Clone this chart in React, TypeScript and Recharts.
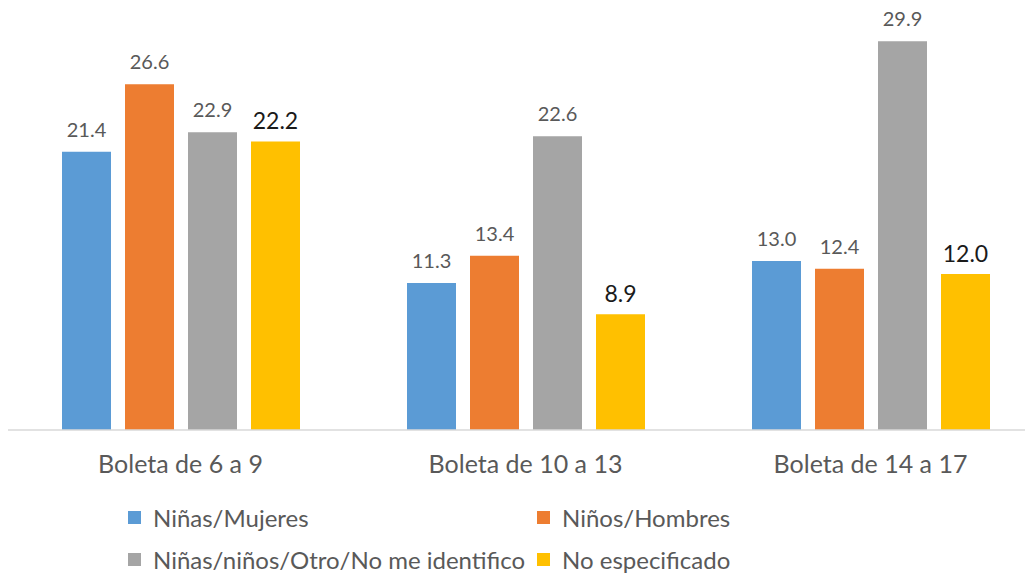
import React from 'react'
import { BarChart, Bar, XAxis, YAxis, LabelList } from 'recharts'

const categories = ['Boleta de 6 a 9', 'Boleta de 10 a 13', 'Boleta de 14 a 17']
const ninasMujeres = [21.4, 11.3, 13.0]
const ninosHombres = [26.6, 13.4, 12.4]
const otro = [22.9, 22.6, 29.9]
const noEspecificado = [22.2, 8.9, 12.0]

const series = [
  { key: 'a', name: 'Niñas/Mujeres', color: '#5B9BD5', values: ninasMujeres },
  { key: 'b', name: 'Niños/Hombres', color: '#ED7D31', values: ninosHombres },
  { key: 'c', name: 'Niñas/niños/Otro/No me identifico', color: '#A5A5A5', values: otro },
  { key: 'd', name: 'No especificado', color: '#FFC000', values: noEspecificado },
]

const data = categories.map((name, i) => {
  const row: any = { name }
  series.forEach(s => { row[s.key] = s.values[i] })
  return row
})

const FONT = 'Lato, "Open Sans", sans-serif'

const makeLabel = (fill: string, size: number, gap: number) => (props: any) => {
  const { x, y, width, value } = props
  return (
    <text x={x + width / 2} y={y - gap} textAnchor="middle" fill={fill} fontSize={size} fontFamily={FONT}>
      {Number(value).toFixed(1)}
    </text>
  )
}

const legendPos = [
  { left: 128, top: 511 },
  { left: 537, top: 511 },
  { left: 128, top: 553 },
  { left: 537, top: 553 },
]

const App = () => {
  return (
    <div style={{ position: 'relative', width: 1033, height: 575, marginTop: -8, marginLeft: -8, overflow: 'hidden', background: '#fff' }}>
      <BarChart width={1043} height={480} data={data} margin={{ top: 14, right: 0, left: 8, bottom: 0 }}
        barCategoryGap={54} barGap={14}>
        <XAxis dataKey="name" height={50} tickLine={false} tickMargin={19}
          axisLine={{ stroke: '#d9d9d9', strokeWidth: 1.5 }}
          tick={{ fontSize: 25, fill: '#595959', fontFamily: FONT }} />
        <YAxis hide domain={[0, 32]} />
        {series.map((s, i) => (
          <Bar key={s.key} dataKey={s.key} name={s.name} fill={s.color} isAnimationActive={false}>
            <LabelList dataKey={s.key} content={i === 3 ? makeLabel('#1a1a1a', 23, 12) : makeLabel('#595959', 20, 15)} />
          </Bar>
        ))}
      </BarChart>
      {series.map((s, i) => (
        <div key={s.key} style={{ position: 'absolute', left: legendPos[i].left, top: legendPos[i].top, display: 'flex', alignItems: 'center', fontFamily: FONT, fontSize: 24, color: '#595959', whiteSpace: 'nowrap' }}>
          <span style={{ display: 'inline-block', width: 13, height: 13, background: s.color, marginRight: 12 }} />
          <span style={{ lineHeight: '13px' }}>{s.name}</span>
        </div>
      ))}
    </div>
  )
}

export default App
